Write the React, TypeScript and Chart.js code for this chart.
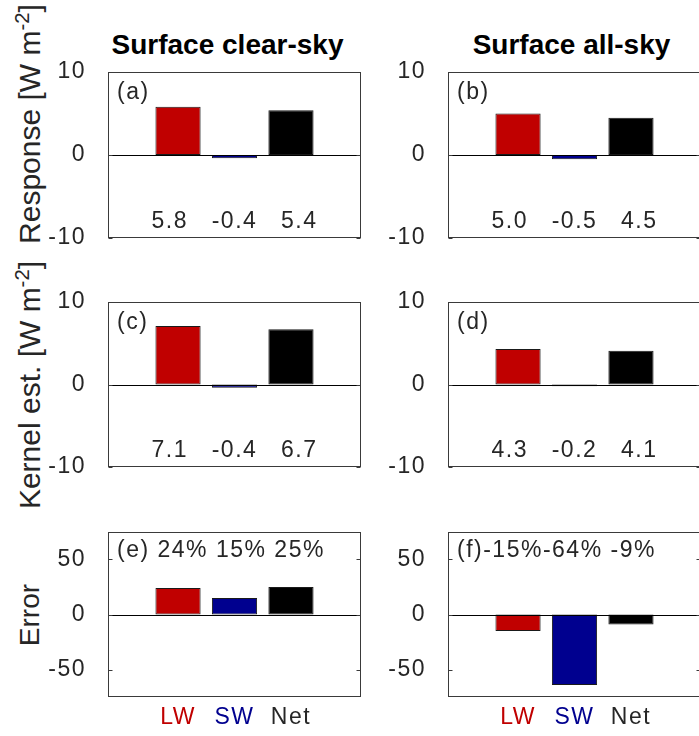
import React, { useEffect, useRef } from 'react';
import { Chart, registerables } from 'chart.js';

Chart.register(...registerables);

// ---------- data ----------
const categories = ['LW', 'SW', 'Net'];
const barColors = ['#C00000', '#00008F', '#000000'];
const labelColors = ['#C00000', '#00008F', '#262626'];

const responseClear = [5.8, -0.4, 5.4];
const responseAll = [5.0, -0.5, 4.5];
const kernelClear = [7.1, -0.4, 6.7];
const kernelAll = [4.3, -0.2, 4.1];
const errorClear = [24, 15, 25];
const errorAll = [-15, -64, -9];

const fluxTicks = [-10, 0, 10];
const errorTicks = [-50, 0, 50];
const fluxRange = [-10, 10];
const errorRange = [-75, 75];

const colTitles = ['Surface clear-sky', 'Surface all-sky'];
const rowLabels = ['Response', 'Kernel est.', 'Error'];
const panelLetters = ['(a)', '(b)', '(c)', '(d)', '(e)', '(f)'];

// ---------- layout ----------
const FONT = '"Liberation Sans", Arial, Helvetica, sans-serif';
const PAD_L = 100;
const PAD_T = 30;
const PAD_R = 20;
const PAD_B = 45;
const COL_LEFT = [108, 448];
const AX_W = 253;
const ROW_TOP = [72, 302, 532];
const AX_H = [166, 165, 165];
const X_MIN = -0.24;
const X_MAX = 4.24;

type PanelProps = {
  left: number;
  top: number;
  width: number;
  height: number;
  values: number[];
  range: number[];
  ticks: number[];
  letter: string;
  kind: 'flux' | 'error';
  showX: boolean;
};

function Panel(p: PanelProps) {
  const ref = useRef<HTMLCanvasElement>(null);
  const cw = p.width + PAD_L + PAD_R;
  const ch = p.height + PAD_T + PAD_B;

  useEffect(() => {
    const deco = {
      id: 'deco',
      beforeDraw(chart: any) {
        try { chart.ctx.letterSpacing = '1.5px'; } catch (e) {}
      },
      afterDatasetsDraw(chart: any) {
        const { ctx, chartArea: a, scales } = chart;
        const ys = scales.y;
        const xs = scales.x;
        ctx.save();
        const l = Math.round(a.left) + 0.5;
        const r = Math.round(a.right) - 0.5;
        const t = Math.round(a.top) + 0.5;
        const b = Math.round(a.bottom) - 0.5;
        // zero baseline
        const y0 = Math.round(ys.getPixelForValue(0)) + 0.5;
        ctx.strokeStyle = '#000000';
        ctx.lineWidth = 1;
        ctx.beginPath();
        ctx.moveTo(l, y0);
        ctx.lineTo(r, y0);
        ctx.stroke();
        // box
        ctx.strokeStyle = '#3a3a3a';
        ctx.strokeRect(l, t, r - l, b - t);
        // inward ticks
        ctx.beginPath();
        p.ticks.forEach((v) => {
          const py = Math.round(ys.getPixelForValue(v)) + 0.5;
          ctx.moveTo(l, py);
          ctx.lineTo(l + 4, py);
          ctx.moveTo(r, py);
          ctx.lineTo(r - 4, py);
        });
        ctx.stroke();
        // texts
        ctx.fillStyle = '#262626';
        ctx.font = `23px ${FONT}`;
        try { ctx.letterSpacing = '1.5px'; } catch (e) {}
        ctx.textBaseline = 'middle';
        if (p.kind === 'flux') {
          ctx.textAlign = 'left';
          ctx.fillText(p.letter, a.left + 9, a.top + 21);
          ctx.textAlign = 'center';
          const s = p.values.map((v) => v.toFixed(1)).join('   ');
          ctx.fillText(s, xs.getPixelForValue(2), ys.getPixelForValue(-8));
        } else {
          ctx.textAlign = 'left';
          const s =
            p.letter +
            p.values.map((v) => String(Math.round(v)).padStart(3, ' ') + '%').join('');
          ctx.fillText(s, a.left + 9, a.top + 19);
        }
        ctx.restore();
      },
    };

    const chart = new Chart(ref.current as HTMLCanvasElement, {
      type: 'bar',
      data: {
        datasets: [
          {
            data: p.values.map((v, i) => ({ x: i + 1, y: v })),
            backgroundColor: barColors,
            borderColor: '#1a1a1a',
            borderWidth: 1,
            borderSkipped: false,
            categoryPercentage: 1,
            barPercentage: 0.8,
          } as any,
        ],
      },
      options: {
        responsive: false,
        maintainAspectRatio: false,
        animation: false,
        devicePixelRatio: 1,
        layout: { padding: { left: 0, top: PAD_T, right: PAD_R, bottom: 0 } },
        plugins: { legend: { display: false }, tooltip: { enabled: false } },
        scales: {
          x: {
            type: 'linear',
            min: X_MIN,
            max: X_MAX,
            offset: false,
            grid: { display: false },
            border: { display: false },
            afterBuildTicks: (s: any) => {
              s.ticks = categories.map((_, i) => ({ value: i + 1 }));
            },
            afterFit: (s: any) => {
              s.height = PAD_B;
            },
            ticks: {
              display: p.showX,
              autoSkip: false,
              maxRotation: 0,
              padding: -1,
              font: { family: FONT, size: 23 },
              color: (ctx: any) => labelColors[ctx.index] || '#262626',
              callback: (v: any) => categories[Math.round(v) - 1] ?? '',
            },
          },
          y: {
            min: p.range[0],
            max: p.range[1],
            grid: { display: false },
            border: { display: false },
            afterBuildTicks: (s: any) => {
              s.ticks = p.ticks.map((v) => ({ value: v }));
            },
            afterFit: (s: any) => {
              s.width = PAD_L;
            },
            ticks: {
              padding: 14,
              font: { family: FONT, size: 23 },
              color: '#262626',
              callback: (v: any) => String(v),
            },
          },
        },
      } as any,
      plugins: [deco],
    });
    return () => chart.destroy();
  }, []);

  return (
    <canvas
      ref={ref}
      width={cw}
      height={ch}
      style={{ position: 'absolute', left: p.left - PAD_L, top: p.top - PAD_T, width: cw, height: ch }}
    />
  );
}

const supStyle: React.CSSProperties = { fontSize: '0.68em', verticalAlign: 'super', lineHeight: 0 };

function RowLabel({ text, cy, unit, size }: { text: string; cy: number; unit: boolean; size: number }) {
  return (
    <div
      style={{
        position: 'absolute',
        left: 30 - 160,
        top: cy - 18,
        width: 320,
        height: 36,
        lineHeight: '36px',
        fontSize: size,
        fontFamily: FONT,
        color: '#262626',
        textAlign: 'center',
        whiteSpace: 'nowrap',
        transform: 'rotate(-90deg)',
        transformOrigin: 'center center',
      }}
    >
      {text}
      {unit ? (
        <>
          {' [W m'}
          <span style={supStyle}>-2</span>
          {']'}
        </>
      ) : null}
    </div>
  );
}

export default function App() {
  const panels: PanelProps[] = [
    { values: responseClear, row: 0, col: 0 },
    { values: responseAll, row: 0, col: 1 },
    { values: kernelClear, row: 1, col: 0 },
    { values: kernelAll, row: 1, col: 1 },
    { values: errorClear, row: 2, col: 0 },
    { values: errorAll, row: 2, col: 1 },
  ].map((d, i) => ({
    left: COL_LEFT[d.col],
    top: ROW_TOP[d.row],
    width: AX_W,
    height: AX_H[d.row],
    values: d.values,
    range: d.row === 2 ? errorRange : fluxRange,
    ticks: d.row === 2 ? errorTicks : fluxTicks,
    letter: panelLetters[i],
    kind: d.row === 2 ? 'error' : 'flux',
    showX: d.row === 2,
  }));

  const titleCenters = [227.5, 571.5];

  return (
    <div
      style={{
        position: 'fixed',
        left: 0,
        top: 0,
        width: 699,
        height: 736,
        overflow: 'hidden',
        background: '#ffffff',
      }}
    >
      {colTitles.map((t, i) => (
        <div
          key={t}
          style={{
            position: 'absolute',
            left: titleCenters[i] - 200,
            top: 31,
            width: 400,
            height: 28,
            lineHeight: '28px',
            fontSize: 28,
            fontWeight: 'bold',
            fontFamily: FONT,
            color: '#000',
            textAlign: 'center',
            whiteSpace: 'nowrap',
          }}
        >
          {t}
        </div>
      ))}
      <RowLabel text={rowLabels[0]} cy={124} unit={true} size={30} />
      <RowLabel text={rowLabels[1]} cy={385} unit={true} size={30} />
      <RowLabel text={rowLabels[2]} cy={615} unit={false} size={28} />
      {panels.map((p, i) => (
        <Panel key={i} {...p} />
      ))}
    </div>
  );
}
